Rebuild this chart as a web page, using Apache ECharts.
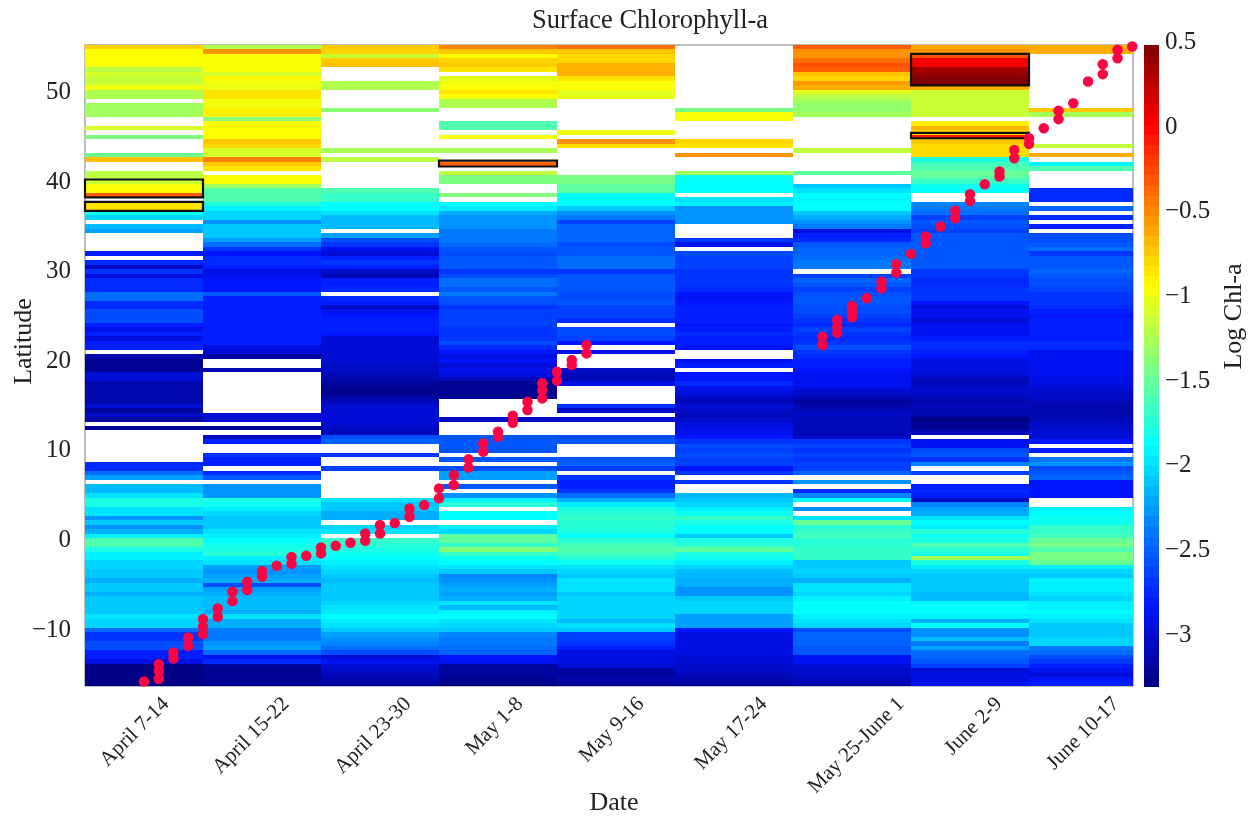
<!DOCTYPE html>
<html><head><meta charset="utf-8">
<style>html,body{margin:0;padding:0;background:#fff}#c{width:1259px;height:816px}</style>
<script src="https://cdn.jsdelivr.net/npm/echarts@6/dist/echarts.min.js"></script>
</head><body><div id="c"></div>
<script>
const N = null;
const dateLabels = ['April 7-14','April 15-22','April 23-30','May 1-8','May 9-16','May 17-24','May 25-June 1','June 2-9','June 10-17'];
const dateLabelAt = [0.686,1.703,2.737,3.686,4.712,5.754,6.915,7.746,8.737];
const latTicks = [-10,0,10,20,30,40,50];
const chlTicks = [-3,-2.5,-2,-1.5,-1,-0.5,0,0.5];
const jetColors = ['#00007f','#0014ff','#007fff','#00ffff','#7fff7f','#ffff00','#ff7f00','#ff0000','#7f0000'];

// Log Chl-a per half-degree latitude row, from 55N (top) to 16.5S (bottom)
const aprilA = [
-.78,-.95,-.95,-.97,-.97,-1.2,-1.1,-1.18,-1.15,-1,
-1.25,-1.25,N,-1.3,-1.3,-1.3,N,N,-1.1,N,
-1.43,N,N,N,-1.5,-.72,N,N,-1.2,-1.2,
-1.15,-.97,-.95,-.35,N,-.85,-.85,-1.85,-2.05,N,
-2.15,-2.25,N,N,N,N,-2.8,N,-2.75,-3.05,
-2.7,-2.95,-2.75,-2.75,-2.75,-2.45,-2.45,-2.75,-2.75,-2.6,
-2.6,-2.6,-2.8,-2.92,-2.8,-2.97,-2.8,-2.8,N,-3.15,
-3.25,-3.25,-3.25,-3,-3,-3.15,-3.15,-3.15,-3.15,-3.15,
-3,-3.2,-3.05,-3.2,N,-3.25,N,N,N,N,
N,N,N,-2.75,-2.75,-2.45,-2.25,N,-2.15,-2.15,
-2,-1.8,-1.8,-2,-2,-2.3,-2.1,-2.3,-2.2,-1.95,
-1.6,-1.6,-1.8,-1.95,-1.95,-2.05,-2.05,-2.1,-2.1,-2.2,
-2.1,-2.1,-2.2,-2.1,-2.1,-2.1,-2.1,-2,-2.05,-2.05,
-2.45,-2.7,-2.7,-2.6,-2.6,-2.8,-2.8,-2.95,-3.3,-3.3,
-3.3,-3.3,-3.3];
const aprilB = [
-1.25,-.55,-.97,-.97,-.97,-.97,-1.1,-.92,-1,-1.03,
-.85,-.85,-1,-1,-.9,-.9,-1.38,-.95,-.95,-.95,
-.95,-.75,-.8,-1.1,-1.1,-.48,-.75,-.85,N,-.97,
-.97,-1.3,-1.6,-1.6,-1.6,-1.78,-1.95,-2.05,-2.05,-2.3,
-2.1,-2.1,-2.1,-2.25,-2.45,-2.7,-2.85,-2.75,-2.75,-2.8,
-2.95,-2.9,-2.85,-2.85,-2.85,-2.55,-2.8,-2.8,-2.8,-2.8,
-2.8,-2.8,-2.8,-2.8,-2.8,-2.8,-2.8,-2.95,-3,-3.2,
N,N,-3.15,N,N,N,N,N,N,N,
N,N,-3,-3,N,-3.25,N,-3.05,-2.8,N,
N,-2.7,-2.8,-2.8,N,-2.75,-2.55,N,-2.3,-2.3,
-2.3,-1.8,-1.85,-1.95,-2.05,-2.1,-2.1,-2.1,-2,-1.95,
-1.9,-1.85,-1.8,-1.75,-1.95,-2,-2.25,-2.3,-2.25,-2.2,
-2.6,-2.25,-2.2,-2.15,-2.15,-2.15,-2.2,-2,-2.2,-2.2,
-2.4,-2.4,-2.4,-2.3,-2.25,-2.45,-2.9,-2.75,-3.2,-3.25,
-3.25,-3.25,-3.25];
const aprilC = [
-.75,-.8,-1.15,-.75,-.72,N,N,N,-1.25,-1.25,
N,N,N,N,-1.38,N,N,N,N,N,
N,N,N,-1.28,N,-1.2,N,N,N,N,
N,N,-1.6,-1.7,-1.7,-1.9,-1.9,-2,-2.15,-2.15,
-2.15,N,-2.25,-2.6,-2.7,-2.9,-3,-2.8,-2.7,-2.8,
-3.05,-3.1,-2.8,-2.8,-2.75,N,-2.75,-2.8,-3.05,-2.9,
-2.85,-2.8,-2.8,-2.8,-2.85,-3,-3,-3,-3,-3,
-3,-3.05,-3.05,-3.1,-3.15,-3.2,-3.25,-3.25,-3.2,-3.1,
-3,-3,-3,-3,-3,-3.05,-3.1,-2.6,-2.5,N,
N,-2.7,N,N,-2.65,N,N,N,N,N,
N,-2,-2.1,-2.1,-2.2,-2.2,N,-2.05,-2,N,
-1.7,-1.75,-1.8,-1.85,-1.9,-1.95,-2,-2.05,-2.1,-2.15,
-2.1,-2.1,-2.1,-2.1,-2.05,-2,-1.98,-1.9,-1.95,-2,
-2.1,-2.25,-2.3,-2.35,-2.45,-2.6,-3,-2.9,-3,-3.05,
-3.1,-3.15,-3.2];
const mayA = [
-.5,-.75,-.95,-.8,-.75,-.85,N,-1.05,-1,-.97,
-.85,-.97,-1.25,-1.25,N,N,N,-1.6,-1.6,N,
-1,N,N,-1.28,N,N,-.36,N,-1.2,-1.43,
-1.43,N,N,-1.4,N,-1.9,-1.97,-2.2,-2.3,-2.3,
-2.3,-2.4,-2.4,-2.4,-2.45,-2.55,-2.6,-2.55,-2.55,-2.55,
-2.7,-2.6,-2.45,-2.45,-2.55,-2.4,-2.55,-2.6,-2.7,-2.65,
-2.65,-2.65,-2.65,-2.7,-2.7,-2.7,-2.6,-2.75,-2.85,-2.95,
-2.85,-3,-2.9,-2.95,-3.1,-3.25,-3.25,-3.25,-3.25,N,
N,N,N,-3.05,N,N,N,-2.55,-2.55,-2.55,
-2.55,N,-2.55,N,-2.6,-2.25,-2.25,N,-2.55,N,
-2.3,-1.95,-1.75,N,-1.9,-1.9,N,-1.95,-2.05,-1.55,
-1.55,-1.7,-1.4,-1.7,-1.85,-1.9,-2,-2.1,-2.35,-2.3,
-2.25,-2.2,-2.25,-2.2,-2,-2.15,-1.95,-1.9,-2,-2.05,
-2.1,-2.35,-2.4,-2.4,-2.45,-2.5,-2.85,-2.9,-3.2,-3.2,
-3.2,-3.25,-3.3];
const mayB = [
-.42,-.75,-.8,-.8,-.67,-.67,-.67,-.85,-.97,-.97,
-1.05,-1.05,N,N,N,N,N,N,N,-1,
N,-.55,-.82,N,N,N,N,N,N,-1.45,
-1.45,-1.55,-1.55,-1.9,-1.9,-1.9,-2.1,-2.3,-2.4,-2.65,
-2.5,-2.5,-2.5,-2.5,-2.6,-2.55,-2.55,-2.45,-2.45,-2.45,
-2.7,-2.55,-2.55,-2.55,-2.55,-2.6,-2.6,-2.55,-2.65,-2.65,
-2.65,-2.75,N,-2.6,-2.6,-2.65,-2.85,N,-2.9,N,
N,N,-3.05,-3.1,-3.1,-2.95,N,N,N,N,
-2.7,-3.05,N,-3,N,N,N,-2.6,-2.55,N,
N,N,-2.55,-2.5,-2.65,N,-2.7,-2.8,-2.8,-2.7,
-2.45,-2.2,-1.95,-1.8,-1.75,-1.7,-1.75,-1.75,-1.8,-1.9,
-1.75,-1.65,-1.6,-1.65,-1.75,-1.85,-2,-2.05,-2.1,-2,
-2,-2,-2.1,-2.05,-2.05,-2.05,-2.05,-2.05,-2.15,-2,
-2.1,-2.65,-2.65,-2.7,-2.8,-2.95,-2.95,-2.95,-3,-3.2,
-3.2,-3.15,-3.25];
const mayC = [
N,N,N,N,N,N,N,N,N,N,
N,N,N,N,-1.45,-.97,-.97,N,N,N,
N,-.8,-.85,N,-.55,N,N,N,-1.3,-1.85,
-1.9,-1.9,-1.9,N,-2,-1.95,-2.3,-2.3,-2.3,-2.3,
N,N,N,-2.7,-2.9,N,-2.6,-2.65,-2.65,-2.65,
-2.7,-2.7,-2.7,-2.7,-2.75,-2.85,-2.9,-2.85,-2.8,-2.8,
-2.8,-2.8,-2.85,-2.8,-2.75,-2.8,-2.8,-2.85,N,N,
-2.9,-2.8,N,-2.85,-2.85,-2.75,-2.9,-2.95,-3.05,-3.1,
-3,-3.05,-3.1,-3.05,-2.95,-2.95,-2.9,-2.85,-2.7,-2.6,
-2.65,-2.6,-2.65,-2.65,-2.85,-2.7,N,-2.7,N,N,
-2.15,-2.1,-2.05,-1.95,-1.85,-1.7,-1.8,-1.9,-1.9,-2.1,
-1.8,-1.75,-1.55,-1.8,-1.85,-1.95,-2.05,-2.15,-2.15,-2.2,
-2.2,-2.3,-2.3,-2.1,-2.05,-2.05,-2.05,-2.25,-2.25,-2.25,
-2.85,-2.95,-2.95,-2.95,-2.95,-2.95,-3,-3,-3.05,-3.05,
-3.1,-3.15,-3.2];
const lateMay = [
-.35,-.55,-.55,-.42,-.3,-.35,-.72,-.8,-.58,-.65,
-1.05,-1.2,-1.3,-1.35,-1.35,-1.3,N,N,N,N,
N,N,N,-1.18,N,N,N,N,-1.55,N,
N,-2.1,-2,-1.9,-1.92,-1.9,-1.9,-2.1,-2.2,-2.3,
-2.4,-2.95,-2.8,-2.75,-2.55,-2.5,-2.5,-2.45,-2.4,-2.4,
N,-2.65,-2.5,-2.55,-2.65,-2.6,-2.55,-2.55,-2.6,-2.6,
-2.65,-2.7,-2.75,-2.65,-2.7,-2.75,-2.7,-2.6,-2.7,-2.75,
-2.8,-2.8,-2.85,-2.9,-2.9,-2.9,-2.95,-3.05,-3.1,-3.2,
-3.15,-3.1,-3.05,-3.1,-3.1,-3.1,-3.1,-3.05,-2.7,-2.65,
-2.7,-2.65,-2.7,-2.65,-2.65,-2.5,N,-2.3,N,-2.75,
-2.35,-1.9,N,-2.3,N,-2,-1.5,-1.75,-1.7,-1.65,
-1.75,-1.75,-1.7,-1.7,-1.7,-2.1,-2.1,-2.05,-2.1,-2.2,
-2,-2,-2.05,-1.95,-1.9,-1.9,-1.9,-1.95,-2,-2.05,
-2.6,-2.5,-2.5,-2.5,-2.55,-2.55,-2.9,-2.9,-3,-3.05,
-3.05,-3.1,-3.15];
const juneA = [
-.62,-.55,-.3,.03,.03,.33,.38,.45,.47,-.65,
-1.15,-1.15,-1.15,-1.15,-1.15,-1.15,N,-.9,-.68,-.8,
-.1,-.75,-.82,-.82,-.82,-1.8,-1.65,-1.6,-1.5,-1.55,
-1.7,-1.85,-1.9,N,N,-2.35,-2.4,-2.45,-2.65,-2.55,
-2.6,-2.65,-2.55,-2.55,-2.55,-2.55,-2.55,-2.55,-2.55,-2.55,
-2.7,-2.7,-2.75,-2.75,-2.7,-2.7,-2.7,-2.85,-3,-2.9,
-2.9,-3,-2.9,-2.9,-2.9,-2.8,-2.75,-2.75,-2.8,-2.85,
-2.95,-2.95,-2.95,-3,-3.1,-3.1,-3.05,-3.05,-3.1,-3.15,
-3.1,-3.15,-3.15,-3.3,-3.25,-3.25,-3.1,N,-2.9,-2.9,
-2.6,-2.55,-2.7,-2.35,N,-2.65,N,N,-2.8,-2.75,
-2.8,-3.05,-2.35,-2.25,-2.2,-2,-1.9,-1.95,-1.75,-1.85,
-1.8,-1.6,-1.75,-1.8,-1.3,-1.8,-1.95,-2.05,-2.1,-2.1,
-2.1,-2.1,-2.15,-2.15,-1.92,-1.9,-1.9,-1.95,-2.2,-1.9,
-2.3,-2.3,-2.15,-2.4,-2.25,-2.45,-2.5,-2.55,-2.65,-3,
-2.95,-2.95,-2.85];
const juneB = [
-.65,-.65,N,N,N,N,N,N,N,N,
N,N,N,N,-.75,-1.28,N,N,N,N,
N,N,-1.18,N,-.65,N,-1.92,-1.6,N,N,
N,N,-2.75,-2.75,-2.75,N,-2.5,N,-2.75,N,
-2.8,N,-2.6,-2.6,-2.55,-2.45,-2.7,-2.55,-2.55,-2.55,
-2.5,-2.55,-2.6,-2.6,-2.65,-2.7,-2.7,-2.7,-2.75,-2.8,
-2.85,-2.8,-2.8,-2.8,-2.8,-2.8,-2.75,-2.75,-2.9,-2.9,
-2.9,-2.9,-2.9,-2.9,-2.95,-2.95,-3,-3.05,-3.05,-3.1,
-3.15,-3.15,-3.15,-3.1,-3.05,-3.05,-3,-3,-2.85,N,
-2.8,N,-2.4,-2.3,-2.6,-2.55,-2.5,-2.85,-2.85,-2.85,
-2.85,N,N,-1.95,-1.9,-1.85,-1.85,-1.7,-1.7,-1.65,
-1.5,-1.45,-1.6,-1.45,-1.45,-1.5,-1.95,-2.05,-2.1,-1.95,
-1.95,-1.95,-2,-2.05,-1.95,-1.95,-1.9,-1.95,-2,-2.1,
-2.1,-2.1,-2.05,-2.05,-2.4,-2.45,-2.6,-2.7,-2.8,-2.9,
-3,-2.85,-2.8];
const weeks = [aprilA,aprilB,aprilC,mayA,mayB,mayC,lateMay,juneA,juneB];

// Ship track: day since April 7 and latitude
const trackDay = [4,5,5,5,6,6,7,7,8,8,8,9,9,10,10,11,11,12,12,13,14,14,15,16,16,17,18,19,19,20,20,21,22,22,23,24,24,25,25,26,26,27,27,28,28,29,29,30,30,31,31,31,32,32,33,33,34,34,
50,50,51,51,51,52,52,52,53,54,54,55,55,56,57,57,58,59,59,60,60,61,62,62,63,63,64,64,65,66,66,67,68,69,69,70,70,71];
const trackLat = [-16,-15.7,-14.8,-14.06,-13.43,-12.76,-12.05,-11.09,-10.7,-9.9,-9.04,-8.78,-7.85,-7.03,-5.99,-5.8,-4.87,-4.32,-3.68,-3.09,-2.87,-2.12,-1.97,-1.71,-1.04,-.86,-.52,-.3,.52,.52,1.45,1.67,2.38,3.3,3.68,4.43,5.54,5.92,7.03,7.88,8.78,9.63,10.56,11.31,11.87,12.87,13.65,14.28,15.21,15.58,16.5,17.26,17.56,18.56,19.3,19.87,20.6,21.54,
21.54,22.47,22.91,23.58,24.33,24.63,25.26,25.89,26.75,27.86,28.6,29.61,30.58,31.7,32.89,33.63,34.75,35.68,36.53,37.61,38.36,39.47,40.33,40.89,42.37,43.3,43.97,44.6,45.72,46.73,47.66,48.51,50.93,51.75,52.86,53.53,54.46,54.84];

// Outlined bloom cells: week index, north latitude, south latitude
const boxWeek = [0,0,3,7,7];
const boxNorth = [40,37.5,42.1,54,45.2];
const boxSouth = [38,36.5,41.45,50.5,44.6];

const latMax = 55, latMin = -16.5, latStep = 0.5, weekSpan = 8.881;
const barMin = -3.32, barMax = 0.47, barLevels = 64;

const cells = [];
weeks.forEach((col, w) => col.forEach((v, r) => { if (v !== N) cells.push([w, latMax - r * latStep, v]); }));
const track = trackDay.map((d, i) => [d / 8, trackLat[i]]);
const boxes = boxWeek.map((w, i) => [w, boxNorth[i], boxSouth[i]]);
const barStep = (barMax - barMin) / barLevels;
const barCells = Array.from({length: barLevels}, (_, i) => [0, barMin + i * barStep, barMin + (i + 0.5) * barStep]);
const serif = '"Liberation Serif","Times New Roman",serif';
const fmtNum = v => String(v).replace('-', '\u2212');
const txt = {fontFamily: serif, fontSize: 25, color: '#222', verticalAlign: 'top', lineHeight: 5};
const nameTxt = {fontFamily: serif, fontSize: 26, color: '#222'};

const chart = echarts.init(document.getElementById('c'), null, {renderer: 'canvas'});
chart.setOption({
  animation: false,
  backgroundColor: '#fff',
  title: {text: 'Surface Chlorophyll-a', left: 645, top: 3, textAlign: 'center',
    textStyle: {fontFamily: serif, fontSize: 26.5, fontWeight: 'normal', color: '#222'}},
  grid: [
    {left: 85, top: 45, width: 1048, height: 641, show: true, outerBoundsMode: 'none', borderColor: '#a8a8a8', borderWidth: 1.5, backgroundColor: '#fff'},
    {left: 1144, top: 40, width: 15, height: 647, show: false, outerBoundsMode: 'none'}
  ],
  xAxis: [
    {type: 'value', gridIndex: 0, min: 0, max: weekSpan, splitLine: {show: false},
     axisLine: {show: false}, axisTick: {show: false},
     name: 'Date', nameLocation: 'middle', nameGap: 104, nameMoveOverlap: false,
     nameTextStyle: {...nameTxt, padding: [0, 0, 0, 10]},
     axisLabel: {fontFamily: serif, fontSize: 21, color: '#222', rotate: 45, margin: 15, hideOverlap: false, showMinLabel: true, showMaxLabel: true,
       customValues: dateLabelAt,
       formatter: v => dateLabels[Math.floor(v)]}},
    {type: 'value', gridIndex: 1, min: 0, max: 1, show: false}
  ],
  yAxis: [
    {type: 'value', gridIndex: 0, min: latMin, max: latMax, splitLine: {show: false},
     axisLine: {show: false}, axisTick: {show: false},
     name: 'Latitude', nameLocation: 'middle', nameGap: 48, nameMoveOverlap: false,
     nameTextStyle: {...nameTxt, padding: [0, 0, 0, 48]},
     axisLabel: {...txt, margin: 14, customValues: latTicks, formatter: fmtNum}},
    {type: 'value', gridIndex: 1, position: 'right', min: -3.32, max: 0.5, splitLine: {show: false},
     axisLine: {show: false}, axisTick: {show: false},
     name: 'Log Chl-a', nameLocation: 'middle', nameGap: 62, nameRotate: 90, nameMoveOverlap: false,
     nameTextStyle: {...nameTxt, padding: [0, 0, 0, 94]},
     axisLabel: {...txt, margin: 6, showMinLabel: true, showMaxLabel: true, customValues: chlTicks, formatter: fmtNum}}
  ],
  visualMap: {
    type: 'continuous', seriesIndex: [0, 3], dimension: 2, min: barMin, max: barMax, show: false,
    inRange: {color: jetColors}
  },
  series: [
    {type: 'custom', name: 'Log Chl-a', xAxisIndex: 0, yAxisIndex: 0, clip: true, silent: true, z: 2,
     encode: {x: 0, y: 1}, data: cells,
     renderItem: (params, api) => {
       const a = api.coord([api.value(0), api.value(1)]);
       const b = api.coord([api.value(0) + 1, api.value(1) - latStep]);
       const x = Math.round(a[0]), y = Math.round(a[1]);
       return {type: 'rect', shape: {x, y, width: Math.round(b[0]) - x, height: Math.round(b[1]) - y},
         style: {fill: api.visual('color')}};
     }},
    {type: 'custom', name: 'Outlined', xAxisIndex: 0, yAxisIndex: 0, silent: true, z: 3,
     encode: {x: 0, y: [1, 2]}, data: boxes,
     renderItem: (params, api) => {
       const a = api.coord([api.value(0), api.value(1)]);
       const b = api.coord([api.value(0) + 1, api.value(2)]);
       return {type: 'rect', shape: {x: a[0], y: a[1], width: b[0] - a[0], height: b[1] - a[1]},
         style: {fill: 'none', stroke: '#111', lineWidth: 2.2}};
     }},
    {type: 'scatter', name: 'Ship track', xAxisIndex: 0, yAxisIndex: 0, clip: false, silent: true, z: 4,
     symbol: 'circle', symbolSize: 10.5, itemStyle: {color: '#fa0544', opacity: 1}, data: track},
    {type: 'custom', name: 'Colour bar', xAxisIndex: 1, yAxisIndex: 1, silent: true, z: 2,
     encode: {x: 0, y: 1}, data: barCells,
     renderItem: (params, api) => {
       const a = api.coord([0, api.value(1) + barStep]);
       const b = api.coord([1, api.value(1)]);
       const y = Math.round(a[1]);
       return {type: 'rect', shape: {x: a[0], y, width: b[0] - a[0], height: Math.round(b[1]) - y},
         style: {fill: api.visual('color')}};
     }}
  ]
});
</script></body></html>
